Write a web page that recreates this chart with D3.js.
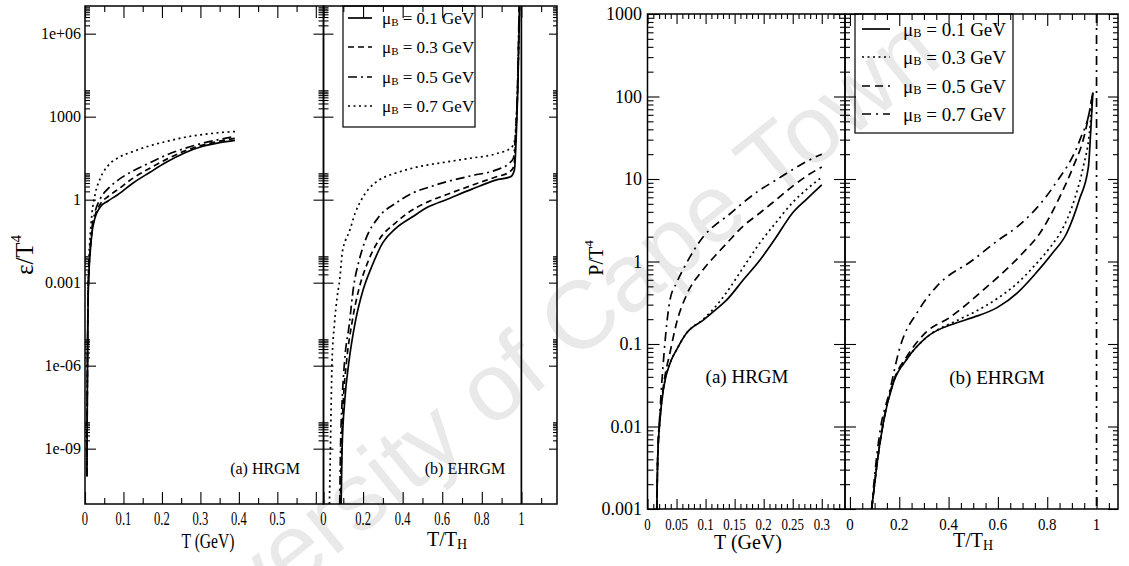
<!DOCTYPE html>
<html lang="en">
<head>
<meta charset="UTF-8">
<title>epsilon/T^4 and P/T^4</title>
<script src="https://cdn.jsdelivr.net/npm/d3@7"></script>
<style>
  body { margin: 0; background: #fff; }
</style>
</head>
<body>
<script>
// ---------- data ----------
var muLabels = ["0.1", "0.3", "0.5", "0.7"];

// (a) HRGM, energy density eps/T^4 against T (GeV)
var epsHrgmT  = [0.005, 0.006, 0.007, 0.008, 0.010, 0.013, 0.018, 0.026, 0.040, 0.060, 0.085, 0.125, 0.170, 0.210, 0.260, 0.300, 0.350, 0.390];
var epsHrgm01 = [1e-10, 1e-7, 1e-5, 2e-4, 2e-3, 1e-2, 6e-2, 0.22, 0.55, 0.9, 1.5, 4, 10, 22, 50, 80, 115, 140];
var epsHrgm03 = [1e-10, 1.2e-7, 1.2e-5, 2.5e-4, 2.5e-3, 1.2e-2, 7e-2, 0.26, 0.7, 1.3, 2.3, 6, 14, 28, 58, 90, 130, 165];
var epsHrgm05 = [1e-10, 1.5e-7, 1.5e-5, 3e-4, 3e-3, 1.5e-2, 9e-2, 0.35, 1.1, 2.5, 5, 11, 22, 40, 72, 105, 150, 195];
var epsHrgm07 = [1e-10, 2e-7, 2e-5, 5e-4, 6e-3, 4e-2, 0.3, 1.5, 6, 17, 32, 55, 90, 125, 180, 220, 265, 290];

// (b) EHRGM, eps/T^4 against T/T_H
var epsEhrgm01 = [[0.089,1e-11],[0.094,1e-9],[0.108,6e-8],[0.128,1.3e-6],[0.16,3.6e-5],[0.2,5.4e-4],[0.245,4e-3],[0.3,2.8e-2],[0.364,9e-2],[0.45,0.24],[0.53,0.55],[0.62,1],[0.75,2.4],[0.87,5.1],[0.947,6.8],[0.965,12],[0.975,300],[0.982,1e4],[0.988,1e6],[0.992,2e7]];
var epsEhrgm03 = [[0.086,1e-11],[0.091,1e-9],[0.1,5e-8],[0.116,1.3e-6],[0.145,4e-5],[0.178,5.5e-4],[0.22,4.7e-3],[0.28,3.5e-2],[0.364,0.145],[0.45,0.43],[0.53,0.85],[0.62,1.5],[0.75,3.3],[0.87,6.6],[0.94,10],[0.962,16],[0.973,300],[0.981,1e4],[0.987,1e6],[0.991,2e7]];
var epsEhrgm05 = [[0.082,1e-11],[0.086,1e-9],[0.094,5e-8],[0.106,1.3e-6],[0.13,3e-5],[0.153,8e-4],[0.178,5.6e-3],[0.21,3.2e-2],[0.28,0.24],[0.364,0.74],[0.45,1.74],[0.53,2.8],[0.62,4.4],[0.75,7.4],[0.87,11.7],[0.94,21],[0.96,32],[0.972,400],[0.98,1e4],[0.986,1e6],[0.99,2e7]];
var epsEhrgm07 = [[0.03,1e-11],[0.035,1e-9],[0.043,1.3e-6],[0.055,3e-5],[0.07,3.4e-4],[0.082,1.3e-3],[0.094,1.1e-2],[0.11,3.2e-2],[0.128,6.3e-2],[0.16,0.33],[0.2,1.26],[0.23,2.5],[0.28,5.1],[0.364,9.1],[0.45,13.8],[0.62,23],[0.75,32],[0.87,45],[0.947,74],[0.965,126],[0.975,1e3],[0.982,2e4],[0.988,1e6],[0.992,2e7]];
var epsTH = [1];   // solid vertical line at T = T_H

// (a) HRGM, pressure P/T^4 against T (GeV)
var pHrgmT  = [0.016, 0.0175, 0.0215, 0.028, 0.039, 0.05, 0.067, 0.096, 0.12, 0.136, 0.165, 0.194, 0.22, 0.25, 0.275, 0.3];
var pHrgm01 = [0.001, 0.004, 0.012, 0.03, 0.059, 0.085, 0.135, 0.195, 0.27, 0.34, 0.6, 1.05, 1.9, 3.9, 5.8, 8.5];
var pHrgm03 = [0.001, 0.004, 0.012, 0.03, 0.059, 0.085, 0.135, 0.2, 0.3, 0.42, 0.85, 1.7, 2.9, 5.2, 7.6, 10.5];
var pHrgm05 = [0.001, 0.004, 0.013, 0.033, 0.08, 0.18, 0.39, 0.8, 1.25, 1.65, 2.7, 3.9, 5.5, 8.2, 11, 14];
var pHrgm07 = [0.001, 0.004, 0.015, 0.07, 0.35, 0.55, 0.95, 2.0, 2.9, 3.5, 5.2, 7.4, 9.6, 13, 16.5, 20];

// (b) EHRGM, P/T^4 against T/T_H
var pEhrgm01 = [[0.088,1e-3],[0.1,2e-3],[0.108,3.2e-3],[0.135,1.1e-2],[0.176,3.4e-2],[0.23,6.5e-2],[0.31,0.12],[0.43,0.18],[0.5,0.21],[0.6,0.28],[0.68,0.42],[0.75,0.7],[0.82,1.25],[0.879,2.2],[0.93,5.6],[0.967,14],[0.976,36],[0.985,112]];
var pEhrgm03 = [[0.088,1e-3],[0.1,2e-3],[0.108,3.2e-3],[0.135,1.1e-2],[0.176,3.4e-2],[0.23,6.5e-2],[0.31,0.12],[0.43,0.19],[0.5,0.24],[0.6,0.36],[0.68,0.55],[0.75,0.9],[0.82,1.6],[0.852,2.2],[0.91,5.6],[0.946,14],[0.971,36],[0.985,112]];
var pEhrgm05 = [[0.088,1e-3],[0.1,2e-3],[0.108,3.2e-3],[0.135,1.1e-2],[0.176,3.5e-2],[0.23,7e-2],[0.31,0.14],[0.405,0.21],[0.54,0.45],[0.7,1.26],[0.77,2.2],[0.85,6.0],[0.905,14],[0.953,36],[0.973,70],[0.985,112]];
var pEhrgm07 = [[0.088,1e-3],[0.1,2.5e-3],[0.12,8e-3],[0.162,2.75e-2],[0.2,8.5e-2],[0.28,0.26],[0.352,0.5],[0.5,1.05],[0.6,1.8],[0.676,2.6],[0.825,8.1],[0.933,30],[0.973,69],[0.985,112]];
var pTH = [1];     // dash-dot vertical line at T = T_H

// tick values and labels
var epsYTicks  = [1e-9, 1e-6, 1e-3, 1, 1e3, 1e6];
var epsYLabels = ["1e-09", "1e-06", "0.001", "1", "1000", "1e+06"];
var epsXaTicks  = [0, 0.1, 0.2, 0.3, 0.4, 0.5];
var epsXaLabels = ["0", "0.1", "0.2", "0.3", "0.4", "0.5"];
var ehrgmXTicks  = [0, 0.2, 0.4, 0.6, 0.8, 1];
var ehrgmXLabels = ["0", "0.2", "0.4", "0.6", "0.8", "1"];
var pYTicks  = [1e-3, 1e-2, 0.1, 1, 10, 100, 1000];
var pYLabels = ["0.001", "0.01", "0.1", "1", "10", "100", "1000"];
var pXaTicks  = [0, 0.05, 0.1, 0.15, 0.2, 0.25, 0.3];
var pXaLabels = ["0", "0.05", "0.1", "0.15", "0.2", "0.25", "0.3"];

// ---------- drawing ----------
var SERIF = "'Liberation Serif', 'DejaVu Serif', 'Times New Roman', serif";
var svg = d3.select("body").append("svg").attr("width", 1129).attr("height", 566)
  .attr("font-family", SERIF);

// watermark (under the plot)
svg.append("text")
  .attr("transform", "translate(945,62) rotate(-39)")
  .attr("text-anchor", "end")
  .attr("font-family", "'Liberation Sans', Arial, sans-serif")
  .style("font-size", "96px")
  .style("fill", "#e9e9e9")
  .text("University of Cape Town");

function txt(x, y, s, size, anchor, sx) {
  return svg.append("text")
    .attr("transform", "translate(" + x + "," + y + ") scale(" + (sx || 1) + ",1)")
    .attr("text-anchor", anchor || "middle")
    .attr("dominant-baseline", "central")
    .attr("font-family", SERIF)
    .style("font-size", size + "px")
    .style("fill", "#000")
    .text(s);
}

function tickSet(axis, tr) {
  svg.append("g").attr("transform", tr)
    .call(axis.tickFormat(function() { return ""; }))
    .call(function(a) { a.select(".domain").remove(); a.selectAll("text").remove(); })
    .selectAll("line").attr("stroke", "#000").attr("stroke-width", 1.1);
}

function xTicks(x, top, bottom, major, minor, lMaj, lMin) {
  tickSet(d3.axisBottom(x).tickValues(major).tickSize(-lMaj), "translate(0," + bottom + ")");
  tickSet(d3.axisBottom(x).tickValues(minor).tickSize(-lMin), "translate(0," + bottom + ")");
  tickSet(d3.axisTop(x).tickValues(major).tickSize(-lMaj), "translate(0," + top + ")");
  tickSet(d3.axisTop(x).tickValues(minor).tickSize(-lMin), "translate(0," + top + ")");
}

// pointsRight: ticks drawn to the right of xpos, pointsLeft: to the left
function yTicks(y, xpos, pointsRight, pointsLeft, major, minor, lMaj, lMin) {
  if (pointsRight) {
    tickSet(d3.axisLeft(y).tickValues(major).tickSize(-lMaj), "translate(" + xpos + ",0)");
    tickSet(d3.axisLeft(y).tickValues(minor).tickSize(-lMin), "translate(" + xpos + ",0)");
  }
  if (pointsLeft) {
    tickSet(d3.axisRight(y).tickValues(major).tickSize(-lMaj), "translate(" + xpos + ",0)");
    tickSet(d3.axisRight(y).tickValues(minor).tickSize(-lMin), "translate(" + xpos + ",0)");
  }
}

function frame(x0, x1, y0, y1) {
  svg.append("rect").attr("x", x0).attr("y", y0).attr("width", x1 - x0).attr("height", y1 - y0)
    .attr("fill", "none").attr("stroke", "#000").attr("stroke-width", 1.5);
}

var clipN = 0;
function curves(x, y, seriesList, dashes) {
  var id = "clip" + (clipN++);
  var r = x.range(), ry = y.range();
  svg.append("clipPath").attr("id", id).append("rect")
    .attr("x", r[0]).attr("y", ry[1]).attr("width", r[1] - r[0]).attr("height", ry[0] - ry[1]);
  var g = svg.append("g").attr("clip-path", "url(#" + id + ")");
  var line = d3.line().x(function(d) { return x(d[0]); }).y(function(d) { return y(d[1]); })
    .curve(d3.curveMonotoneX);
  g.selectAll("path").data(seriesList).enter().append("path")
    .attr("d", line)
    .attr("fill", "none").attr("stroke", "#000").attr("stroke-width", 1.7)
    .attr("stroke-dasharray", function(d, i) { return dashes[i]; });
  return g;
}

function zip(xs, ys) { return xs.map(function(v, i) { return [v, ys[i]]; }); }
function logMinors(majors, dom) {
  var out = [];
  majors.forEach(function(m) { d3.range(2, 10).forEach(function(k) { out.push(k * m); }); });
  return out.filter(function(v) { return v > dom[0] && v < dom[1]; });
}

function legend(x0, y0, x1, y1, rows, textX, sampleX0, sampleX1, size, dashes) {
  svg.append("rect").attr("x", x0).attr("y", y0).attr("width", x1 - x0).attr("height", y1 - y0)
    .attr("fill", "none").attr("stroke", "#000").attr("stroke-width", 1.2);
  muLabels.forEach(function(m, i) {
    svg.append("line").attr("x1", sampleX0).attr("x2", sampleX1).attr("y1", rows[i]).attr("y2", rows[i])
      .attr("stroke", "#000").attr("stroke-width", 1.7).attr("stroke-dasharray", dashes[i]);
    var t = txt(textX, rows[i], "", size, "start");
    t.append("tspan").text("\u03bc");
    t.append("tspan").attr("baseline-shift", "-35%").style("font-size", (size * 0.65) + "px").text("B");
    t.append("tspan").text(" = " + m + " GeV");
  });
}

// ===== left figure: eps/T^4 =====
var epsDash = ["none", "6,4", "9,4,2,4", "2,3.5"];
var eTop = 6, eBot = 504, eA0 = 85, eMid = 323.5, eB1 = 557;
var yEps = d3.scaleLog().domain([1e-11, 1e7]).range([eBot, eTop]);
var xEa = d3.scaleLinear().domain([0, 0.62]).range([eA0, eMid]);
var xEb = d3.scaleLinear().domain([0, 1.18]).range([eMid, eB1]);
var epsMinor = logMinors(epsYTicks, yEps.domain());

curves(xEa, yEps, [zip(epsHrgmT, epsHrgm01), zip(epsHrgmT, epsHrgm03), zip(epsHrgmT, epsHrgm05), zip(epsHrgmT, epsHrgm07)], epsDash);
curves(xEb, yEps, [epsEhrgm01, epsEhrgm03, epsEhrgm05, epsEhrgm07], epsDash);
svg.selectAll(".thEps").data(epsTH).enter().append("line").attr("class", "thEps")
  .attr("x1", function(d) { return xEb(d); }).attr("x2", function(d) { return xEb(d); })
  .attr("y1", eTop).attr("y2", eBot).attr("stroke", "#000").attr("stroke-width", 1.7);

xTicks(xEa, eTop, eBot, epsXaTicks.concat([0.6]), d3.range(0.05, 0.6, 0.1), 12, 6);
xTicks(xEb, eTop, eBot, ehrgmXTicks, d3.range(0.1, 1.15, 0.2), 12, 6);
yTicks(yEps, eA0, true, false, epsYTicks, epsMinor, 11, 5);
yTicks(yEps, eMid, true, true, epsYTicks, epsMinor, 10, 5);
yTicks(yEps, eB1, false, true, epsYTicks, epsMinor, 8, 4);
frame(eA0, eMid, eTop, eBot);
frame(eMid, eB1, eTop, eBot);

epsYTicks.forEach(function(v, i) { txt(81, yEps(v), epsYLabels[i], 16, "end"); });
epsXaTicks.forEach(function(v, i) { txt(xEa(v), 519, epsXaLabels[i], 18, "middle", 0.7); });
ehrgmXTicks.forEach(function(v, i) { txt(xEb(v), 519, ehrgmXLabels[i], 18, "middle", 0.7); });
txt(208, 541, "T (GeV)", 20, "middle", 0.78);
var tl = txt(447, 539, "T/T", 20, "middle");
tl.append("tspan").attr("baseline-shift", "-40%").style("font-size", "14px").text("H");
var yl = svg.append("text").attr("transform", "translate(24,255) rotate(-90)")
  .attr("text-anchor", "middle").attr("dominant-baseline", "central").attr("font-family", SERIF)
  .style("font-size", "25px");
yl.append("tspan").text("\u03b5/T");
yl.append("tspan").attr("baseline-shift", "55%").style("font-size", "15px").text("4");
txt(265, 468, "(a) HRGM", 16);
txt(465, 468, "(b) EHRGM", 16);
legend(343, eTop, 475, 127, [18, 47, 77, 106], 382, 348, 372, 17, epsDash);

// ===== right figure: P/T^4 =====
var pDash = ["none", "2,3.5", "8,5", "9,5,2,5"];
var pTop = 14, pBot = 509, pA0 = 647.5, pMid = 845, pB1 = 1118;
var yP = d3.scaleLog().domain([1e-3, 1e3]).range([pBot, pTop]);
var xPa = d3.scaleLinear().domain([0, 0.34]).range([pA0, pMid]);
var xPb = d3.scaleLinear().domain([-0.02, 1.087]).range([pMid, pB1]);
var pMinor = logMinors(pYTicks, yP.domain());

curves(xPa, yP, [zip(pHrgmT, pHrgm01), zip(pHrgmT, pHrgm03), zip(pHrgmT, pHrgm05), zip(pHrgmT, pHrgm07)], pDash);
curves(xPb, yP, [pEhrgm01, pEhrgm03, pEhrgm05, pEhrgm07], pDash);
svg.selectAll(".thP").data(pTH).enter().append("line").attr("class", "thP")
  .attr("x1", function(d) { return xPb(d); }).attr("x2", function(d) { return xPb(d); })
  .attr("y1", pTop).attr("y2", pBot).attr("stroke", "#000").attr("stroke-width", 1.7)
  .attr("stroke-dasharray", pDash[3]);

var pxaMinor = d3.range(1, 34).map(function(i) { return i / 100; })
  .filter(function(v) { return Math.round(v * 100) % 5 !== 0; });
var pxbMinor = d3.range(1, 22).map(function(i) { return i / 20; })
  .filter(function(v) { return Math.round(v * 20) % 4 !== 0; });
xTicks(xPa, pTop, pBot, pXaTicks, pxaMinor, 10, 5);
xTicks(xPb, pTop, pBot, ehrgmXTicks, pxbMinor, 12, 6);
yTicks(yP, pA0, true, false, pYTicks, pMinor, 12, 6);
yTicks(yP, pMid, true, true, pYTicks, pMinor, 11, 5);
yTicks(yP, pB1, false, true, pYTicks, pMinor, 10, 5);
frame(pA0, pMid, pTop, pBot);
frame(pMid, pB1, pTop, pBot);

pYTicks.forEach(function(v, i) { txt(642, yP(v), pYLabels[i], 18, "end"); });
pXaTicks.forEach(function(v, i) { txt(xPa(v), 524, pXaLabels[i], 17, "middle", 0.76); });
ehrgmXTicks.forEach(function(v, i) { txt(xPb(v), 524, ehrgmXLabels[i], 17, "middle", 0.88); });
txt(748, 542, "T (GeV)", 20);
var tr = txt(973, 540, "T/T", 20, "middle");
tr.append("tspan").attr("baseline-shift", "-40%").style("font-size", "14px").text("H");
var pl = svg.append("text").attr("transform", "translate(596,258) rotate(-90)")
  .attr("text-anchor", "middle").attr("dominant-baseline", "central").attr("font-family", SERIF)
  .style("font-size", "20px");
pl.append("tspan").text("P/T");
pl.append("tspan").attr("baseline-shift", "55%").style("font-size", "13px").text("4");
txt(747, 376, "(a) HRGM", 19);
txt(997, 377, "(b) EHRGM", 19);
legend(855, pTop, 1013, 133, [29, 57, 86, 114], 903, 862, 890, 19, pDash);
</script>
</body>
</html>
